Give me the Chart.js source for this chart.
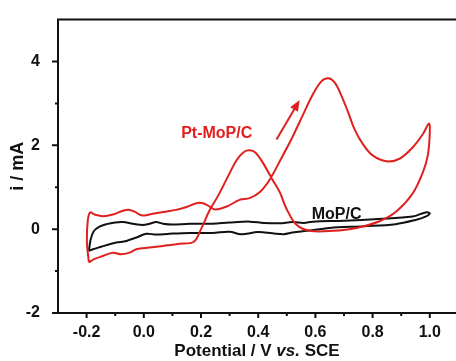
<!DOCTYPE html>
<html>
<head>
<meta charset="utf-8">
<script src="https://cdn.jsdelivr.net/npm/chart.js@4"></script>
<style>
  html, body { margin: 0; padding: 0; background: #fff; }
  #wrap { width: 456px; height: 361px; position: relative; }
</style>
</head>
<body>
<div id="wrap"><canvas id="cvChart"></canvas></div>
<script>
// Pt-MoP/C cyclic voltammogram (forward scan, then reverse)
const ptPotential = [
  -0.192, -0.199, -0.196, -0.188, -0.172, -0.143, -0.108, -0.073, -0.05, -0.032,
  -0.009, 0.02, 0.067, 0.113, 0.149, 0.184, 0.207, 0.23, 0.25, 0.29,
  0.335, 0.37, 0.405, 0.44, 0.48, 0.52, 0.556, 0.59, 0.62, 0.645,
  0.667, 0.69, 0.714, 0.737, 0.766, 0.8, 0.848, 0.894, 0.94, 0.976,
  0.997, 1.0, 0.993, 0.976, 0.94, 0.883, 0.824, 0.743, 0.661, 0.58,
  0.533, 0.498, 0.475, 0.45, 0.415, 0.39, 0.37, 0.35, 0.325, 0.29,
  0.26, 0.23, 0.2, 0.175, 0.125, 0.067, 0.02, -0.026, -0.05, -0.079,
  -0.108, -0.143, -0.172, -0.192
];
const ptCurrent = [
  -0.79, -0.3, 0.2, 0.4, 0.35, 0.31, 0.35, 0.44, 0.46, 0.42,
  0.33, 0.35, 0.41, 0.46, 0.53, 0.62, 0.62, 0.54, 0.47, 0.54,
  0.7, 0.74, 0.88, 1.18, 1.68, 2.2, 2.72, 3.2, 3.52, 3.6,
  3.5, 3.2, 2.8, 2.38, 2.03, 1.76, 1.62, 1.68, 1.95, 2.27,
  2.52, 2.3, 1.76, 1.36, 0.85, 0.42, 0.19, 0.03, -0.04, -0.04,
  0.11, 0.5, 0.89, 1.18, 1.6, 1.83, 1.88, 1.84, 1.65, 1.2,
  0.8, 0.45, 0.0, -0.3, -0.35, -0.4, -0.44, -0.48, -0.56, -0.6,
  -0.56, -0.64, -0.71, -0.79
];

// MoP/C cyclic voltammogram
const mopPotential = [
  -0.192, -0.186, -0.175, -0.155, -0.13, -0.1, -0.073, -0.038, -0.003, 0.02,
  0.043, 0.067, 0.1, 0.16, 0.24, 0.3, 0.37, 0.42, 0.475, 0.52,
  0.56, 0.59, 0.7, 0.82, 0.94, 0.985, 1.0, 0.985, 0.95, 0.88,
  0.77, 0.65, 0.57, 0.52, 0.49, 0.45, 0.4, 0.34, 0.3, 0.24,
  0.16, 0.09, 0.043, 0.008, -0.026, -0.061, -0.096, -0.12, -0.149, -0.178,
  -0.192
];
const mopCurrent = [
  -0.52, -0.25, -0.05, 0.06, 0.12, 0.16, 0.17, 0.13, 0.1, 0.13,
  0.17, 0.13, 0.11, 0.13, 0.13, 0.16, 0.18, 0.15, 0.14, 0.17,
  0.15, 0.18, 0.2, 0.24, 0.3, 0.4, 0.38, 0.3, 0.22, 0.12,
  0.07, 0.03, -0.04, -0.08, -0.12, -0.1, -0.07, -0.12, -0.06, -0.09,
  -0.09, -0.11, -0.13, -0.11, -0.2, -0.28, -0.32, -0.36, -0.42, -0.48,
  -0.52
];

const xMajor = [-0.2, 0.0, 0.2, 0.4, 0.6, 0.8, 1.0];
const xMinor = [-0.1, 0.1, 0.3, 0.5, 0.7, 0.9];
const yMajor = [-2, 0, 2, 4];
const yMinor = [-1, 1, 3];

const RED = '#e0201e';
const INK = '#111111';
const FONT = '"Liberation Sans", Arial, sans-serif';

function toPoints(xs, ys) {
  return xs.map((v, i) => ({ x: v, y: ys[i] }));
}

// axis frame, tick marks, titles and labels drawn on top
const framePlugin = {
  id: 'framePlugin',
  afterDraw(chart) {
    const { ctx, chartArea: a } = chart;
    const x = chart.scales.x;
    const y = chart.scales.y;
    ctx.save();
    ctx.strokeStyle = INK;
    ctx.lineWidth = 2;
    ctx.lineCap = 'square';
    ctx.beginPath();
    ctx.moveTo(a.right + 2, a.top);
    ctx.lineTo(a.left, a.top);
    ctx.lineTo(a.left, a.bottom);
    ctx.lineTo(a.right + 2, a.bottom);
    ctx.stroke();

    ctx.lineCap = 'butt';
    ctx.beginPath();
    xMajor.forEach(v => { const p = x.getPixelForValue(v); ctx.moveTo(p, a.bottom); ctx.lineTo(p, a.bottom + 5); });
    xMinor.forEach(v => { const p = x.getPixelForValue(v); ctx.moveTo(p, a.bottom); ctx.lineTo(p, a.bottom + 3); });
    yMajor.forEach(v => { const p = y.getPixelForValue(v); ctx.moveTo(a.left, p); ctx.lineTo(a.left - 6, p); });
    yMinor.forEach(v => { const p = y.getPixelForValue(v); ctx.moveTo(a.left, p); ctx.lineTo(a.left - 3, p); });
    ctx.stroke();

    // x axis title with italic "vs."
    ctx.fillStyle = INK;
    ctx.textBaseline = 'alphabetic';
    ctx.textAlign = 'left';
    const parts = [
      ['Potential / V ', 'bold 17px ' + FONT],
      ['vs.', 'italic bold 17px ' + FONT],
      [' SCE', 'bold 17px ' + FONT]
    ];
    let total = 0;
    parts.forEach(p => { ctx.font = p[1]; total += ctx.measureText(p[0]).width; });
    let tx = (a.left + a.right) / 2 - total / 2;
    parts.forEach(p => { ctx.font = p[1]; ctx.fillText(p[0], tx, 356); tx += ctx.measureText(p[0]).width; });

    // y axis title
    ctx.save();
    ctx.translate(23, (a.top + a.bottom) / 2);
    ctx.rotate(-Math.PI / 2);
    ctx.textAlign = 'center';
    ctx.font = 'bold 18px ' + FONT;
    ctx.fillText('i / mA', 0, 0);
    ctx.restore();

    // series labels
    ctx.textAlign = 'center';
    ctx.textBaseline = 'middle';
    ctx.font = 'bold 16px ' + FONT;
    ctx.fillStyle = RED;
    ctx.fillText('Pt-MoP/C', x.getPixelForValue(0.255), y.getPixelForValue(2.28));
    ctx.fillStyle = INK;
    ctx.fillText('MoP/C', x.getPixelForValue(0.674), y.getPixelForValue(0.35));

    // scan direction arrow
    const x0 = x.getPixelForValue(0.464), y0 = y.getPixelForValue(2.14);
    const x1 = x.getPixelForValue(0.545), y1 = y.getPixelForValue(3.08);
    const ang = Math.atan2(y1 - y0, x1 - x0);
    ctx.strokeStyle = RED;
    ctx.fillStyle = RED;
    ctx.lineWidth = 2;
    ctx.beginPath();
    ctx.moveTo(x0, y0);
    ctx.lineTo(x1 - 8 * Math.cos(ang), y1 - 8 * Math.sin(ang));
    ctx.stroke();
    ctx.beginPath();
    ctx.moveTo(x1, y1);
    ctx.lineTo(x1 - 11 * Math.cos(ang) + 4.5 * Math.sin(ang), y1 - 11 * Math.sin(ang) - 4.5 * Math.cos(ang));
    ctx.lineTo(x1 - 11 * Math.cos(ang) - 4.5 * Math.sin(ang), y1 - 11 * Math.sin(ang) + 4.5 * Math.cos(ang));
    ctx.closePath();
    ctx.fill();
    ctx.restore();
  }
};

new Chart(document.getElementById('cvChart'), {
  type: 'scatter',
  data: {
    datasets: [
      {
        label: 'Pt-MoP/C',
        data: toPoints(ptPotential, ptCurrent),
        showLine: true,
        borderColor: RED,
        borderWidth: 2,
        pointRadius: 0,
        tension: 0.35
      },
      {
        label: 'MoP/C',
        data: toPoints(mopPotential, mopCurrent),
        showLine: true,
        borderColor: INK,
        borderWidth: 2,
        pointRadius: 0,
        tension: 0.35
      }
    ]
  },
  options: {
    responsive: true,
    maintainAspectRatio: false,
    animation: false,
    layout: { padding: { top: 16, right: 0, bottom: 0, left: 0 } },
    plugins: {
      legend: { display: false },
      tooltip: { enabled: false }
    },
    scales: {
      x: {
        type: 'linear',
        min: -0.3,
        max: 1.0916,
        grid: { display: false },
        border: { display: false },
        afterBuildTicks: s => { s.ticks = xMajor.map(v => ({ value: v })); },
        afterFit: s => { s.height = 48; },
        ticks: {
          padding: 2,
          color: INK,
          font: { family: FONT, size: 16, weight: 'bold' },
          callback: v => Number(v).toFixed(1)
        }
      },
      y: {
        type: 'linear',
        min: -2,
        max: 5,
        grid: { display: false },
        border: { display: false },
        afterBuildTicks: s => { s.ticks = yMajor.map(v => ({ value: v })); },
        afterFit: s => { s.width = 58; },
        ticks: {
          padding: 10,
          color: INK,
          font: { family: FONT, size: 16, weight: 'bold' },
          callback: v => String(v)
        }
      }
    }
  },
  plugins: [framePlugin]
});
</script>
</body>
</html>
